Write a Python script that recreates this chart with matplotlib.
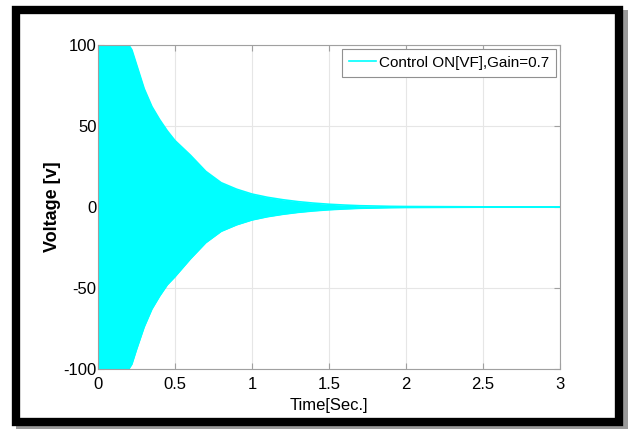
import matplotlib
matplotlib.use('Agg')
import matplotlib.pyplot as plt
from matplotlib.patches import Rectangle

plt.rcParams['font.family'] = ['Liberation Sans', 'DejaVu Sans']
plt.rcParams['axes.unicode_minus'] = False

# envelope of the oscillating voltage (clipped at +-100)
t_env = [0, 0.05, 0.1, 0.15, 0.2, 0.22, 0.25, 0.3, 0.35, 0.4, 0.45, 0.5, 0.6, 0.7, 0.8,
         0.9, 1.0, 1.1, 1.2, 1.3, 1.4, 1.5, 1.6, 1.7, 1.8, 1.9, 2.0, 2.5, 3.0]
v_upper = [100, 100, 100, 100, 100, 97, 88, 73, 62, 54, 47, 41, 32, 22, 15,
           11, 8, 6, 4.5, 3.3, 2.4, 1.7, 1.2, 0.8, 0.6, 0.4, 0.3, 0.1, 0.05]
v_lower = [-100, -100, -100, -100, -100, -97, -88, -74, -63, -55, -48, -43, -32, -22, -15,
           -11, -8, -6, -4.5, -3.3, -2.4, -1.7, -1.2, -0.8, -0.6, -0.4, -0.3, -0.1, -0.05]
xticks = [0, 0.5, 1, 1.5, 2, 2.5, 3]
yticks = [-100, -50, 0, 50, 100]

fig = plt.figure(figsize=(6.28, 4.29), dpi=100)

# frame with shadow
fig.patches.append(Rectangle((16/628, 0), 612/628, 419/429, transform=fig.transFigure,
                             facecolor='#9a9a9a', edgecolor='none', zorder=-3))
fig.patches.append(Rectangle((16/628, 7/429), 603/628, 412/429, transform=fig.transFigure,
                             facecolor='white', edgecolor='black', linewidth=6, zorder=-2))

ax = fig.add_axes([98/628, 1 - 369/429, 462/628, 324/429])
cyan = '#00ffff'
ax.fill_between(t_env, v_lower, v_upper, color=cyan, linewidth=0)
ax.plot(t_env, v_upper, color=cyan, linewidth=1.2, label='Control ON[VF],Gain=0.7')
ax.plot(t_env, v_lower, color=cyan, linewidth=1.2)

ax.set_xlim(0, 3)
ax.set_ylim(-100, 100)
ax.set_xticks(xticks)
ax.set_xticklabels(['0', '0.5', '1', '1.5', '2', '2.5', '3'])
ax.set_yticks(yticks)
ax.grid(True, color='#e6e6e6', linewidth=0.8)
ax.set_axisbelow(True)
for s in ax.spines.values():
    s.set_color('#a0a0a0')
ax.tick_params(direction='in', length=4, color='#a0a0a0', labelsize=12,
               top=True, right=True)
ax.tick_params(axis='x', pad=6)
ax.tick_params(axis='y', pad=1)

ax.set_xlabel('Time[Sec.]', fontsize=12, labelpad=4)
ax.set_ylabel('Voltage [v]', fontsize=13, fontweight='bold', labelpad=2)

leg = ax.legend(loc='upper right', fontsize=11, handlelength=1.8, handletextpad=0.2,
                fancybox=False, framealpha=1, borderpad=0.45, borderaxespad=0.25)
leg.get_frame().set_edgecolor('#909090')
leg.get_frame().set_linewidth(0.8)

fig.savefig('out.png', dpi=100)
